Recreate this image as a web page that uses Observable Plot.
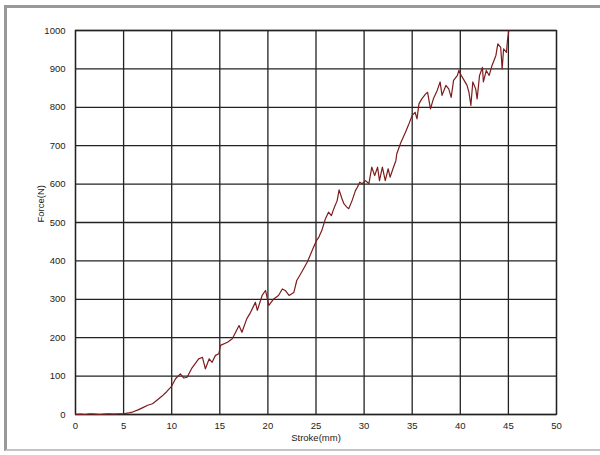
<!DOCTYPE html>
<html>
<head>
<meta charset="utf-8">
<script src="https://cdn.jsdelivr.net/npm/d3@7"></script>
<script src="https://cdn.jsdelivr.net/npm/@observablehq/plot@0.6"></script>
<style>
  html, body { margin: 0; padding: 0; background: #fff; }
  #wrap { position: relative; width: 600px; height: 455px; overflow: hidden; }
  #border { position: absolute; left: 4px; top: 5px; width: 600px; height: 446px;
    border-top: 3px solid #999; border-left: 3px solid #999; border-bottom: 2px solid #c4c4c4;
    box-sizing: border-box; pointer-events: none; }
</style>
</head>
<body>
<div id="wrap"><div id="chart"></div><div id="border"></div></div>
<script>
const stroke = [0,0.5,1,1.5,2,2.5,3,3.5,4,4.5,5,5.5,6,6.5,7,7.5,8,8.5,9,9.5,10,10.4,10.9,11.26,11.6,12.1,12.8,13.2,13.5,13.9,14.2,14.55,14.9,15.07,15.8,16.3,17.0,17.3,17.8,18.2,18.7,18.9,19.4,19.75,20.1,20.6,21.1,21.5,21.8,22.2,22.7,23.0,23.4,24.1,24.6,25.05,25.3,25.6,25.98,26.3,26.6,26.85,27.2,27.4,27.7,27.9,28.2,28.4,28.75,29.1,29.3,29.55,29.8,30.15,30.5,30.8,31.1,31.4,31.6,31.9,32.2,32.5,32.7,33.0,33.3,33.4,33.8,34.3,34.6,35.0,35.3,35.5,35.7,36.0,36.4,36.6,36.9,37.2,37.6,37.9,38.1,38.5,38.8,39.05,39.3,39.7,39.85,40.1,40.4,40.7,40.9,41.1,41.3,41.6,41.75,42.0,42.3,42.4,42.7,43.0,43.3,43.7,43.9,44.2,44.35,44.5,44.8,44.9,45.05];
const force = [0,1,0,2,1,0,1,2,1,2,2,4,7,12,18,24,28,38,48,60,74,93,106,95,97,121,145,149,119,145,136,154,158,180,188,197,232,214,249,266,292,271,310,323,284,301,310,327,323,310,318,349,366,397,427,453,462,479,510,527,518,536,557,585,562,549,540,536,557,583,592,605,601,609,601,644,622,644,609,644,609,640,618,640,661,679,707,735,753,779,787,770,809,822,835,839,796,822,844,866,831,857,848,826,870,883,896,883,870,857,839,805,866,848,822,883,904,866,896,883,909,935,965,956,900,952,943,974,1000];
const xTicks = [0,5,10,15,20,25,30,35,40,45,50];
const yTicks = [0,100,200,300,400,500,600,700,800,900,1000];
const xLabel = "Stroke(mm)";
const yLabel = "Force(N)";

const data = stroke.map((s, i) => ({stroke: s, force: force[i]}));

const chart = Plot.plot({
  width: 600,
  height: 455,
  marginLeft: 75,
  marginRight: 44,
  marginTop: 30,
  marginBottom: 41,
  style: {fontFamily: "'Liberation Sans', Arial, sans-serif", fontSize: "9.5px", background: "transparent", color: "#222"},
  x: {domain: [0, 50]},
  y: {domain: [0, 1000]},
  marks: [
    Plot.gridX(xTicks, {stroke: "#222", strokeOpacity: 1, strokeWidth: 1.3}),
    Plot.gridY(yTicks, {stroke: "#222", strokeOpacity: 1, strokeWidth: 1.3}),
    Plot.axisX(xTicks, {tickSize: 0, tickPadding: 8, label: null, tickFormat: d => String(d)}),
    Plot.axisY(yTicks, {tickSize: 0, tickPadding: 10, label: null, tickFormat: d => String(d)}),
    Plot.frame({stroke: "#222", strokeWidth: 1.3}),
    Plot.line(data, {x: "stroke", y: "force", stroke: "#7d1c1c", strokeWidth: 1.2, strokeLinejoin: "round"}),
    Plot.text([xLabel], {frameAnchor: "bottom", dy: 26, text: d => d, fontSize: 9.5}),
    Plot.text([yLabel], {frameAnchor: "left", dx: -35, rotate: -90, text: d => d, fontSize: 9.5})
  ]
});
document.getElementById("chart").appendChild(chart);
</script>
</body>
</html>
